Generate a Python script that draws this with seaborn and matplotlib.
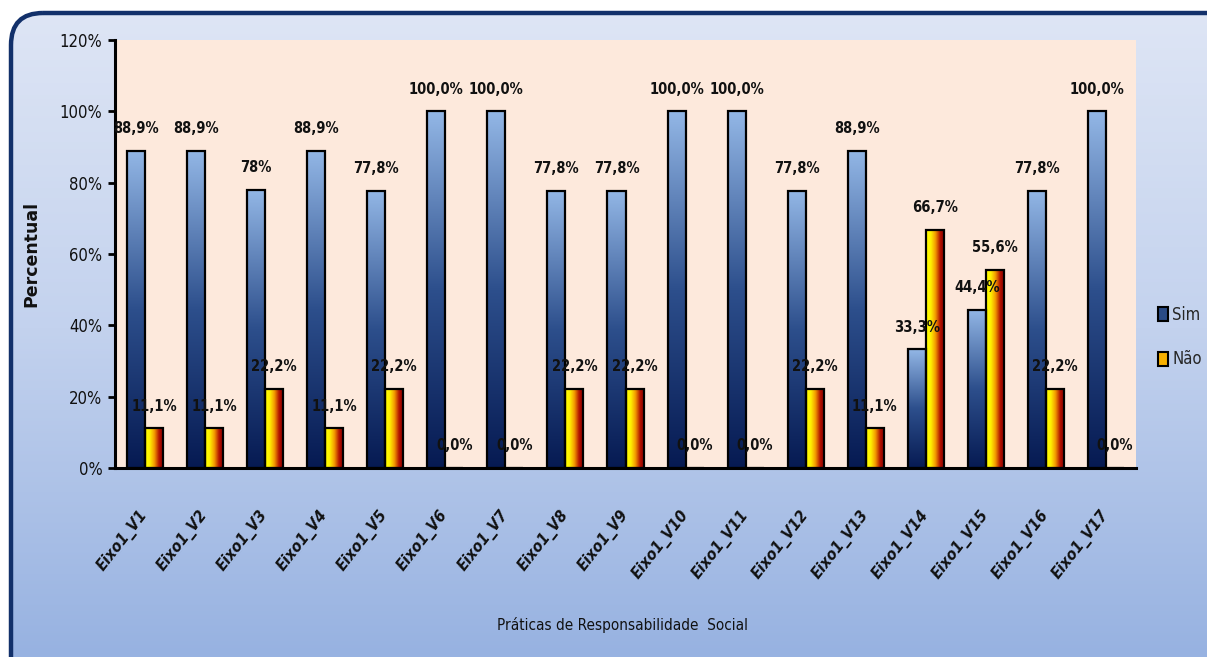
import numpy as np
import pandas as pd
import matplotlib
matplotlib.use("Agg")
import matplotlib.pyplot as plt
from matplotlib.colors import LinearSegmentedColormap
from matplotlib.patches import FancyBboxPatch, Patch
import seaborn as sns

# ---- data -------------------------------------------------------------
categories = [f"Eixo1_V{i}" for i in range(1, 18)]
sim = [88.9, 88.9, 78.0, 88.9, 77.8, 100.0, 100.0, 77.8, 77.8, 100.0,
       100.0, 77.8, 88.9, 33.3, 44.4, 77.8, 100.0]
nao = [11.1, 11.1, 22.2, 11.1, 22.2, 0.0, 0.0, 22.2, 22.2, 0.0,
       0.0, 22.2, 11.1, 66.7, 55.6, 22.2, 0.0]
# decimals shown in each data label
sim_decimals = [1, 1, 0, 1, 1, 1, 1, 1, 1, 1, 1, 1, 1, 1, 1, 1, 1]
nao_decimals = [1] * 17
series = ["Sim", "Não"]
y_ticks = [0, 20, 40, 60, 80, 100, 120]

df = pd.DataFrame({
    "categoria": categories * 2,
    "serie": ["Sim"] * 17 + ["Não"] * 17,
    "valor": sim + nao,
})

W, H, DPI = 1207, 657, 100
sns.set_theme(style="white")
plt.rcParams["font.family"] = ["DejaVu Sans"]
plt.rcParams["font.stretch"] = "condensed"
COND = dict(fontstretch="condensed")

fig = plt.figure(figsize=(W / DPI, H / DPI), dpi=DPI)
fig.patch.set_facecolor("white")

# ---- rounded gradient frame behind the chart --------------------------
bg = fig.add_axes([0, 0, 1, 1], zorder=-10)
bg.set_xlim(0, W)
bg.set_ylim(H, 0)
bg.axis("off")
frame_cmap = LinearSegmentedColormap.from_list("frame", ["#dfe6f5", "#c3d2ee", "#97b2e1"])
frame = FancyBboxPatch((11, 13), W + 40, H + 40,
                       boxstyle="round,pad=0,rounding_size=32",
                       facecolor="none", edgecolor="#12306a", linewidth=3.2)
bg.add_patch(frame)
grad = np.linspace(0, 1, 256).reshape(-1, 1)
im = bg.imshow(grad, extent=(0, W, H, 0), origin="upper", aspect="auto",
               cmap=frame_cmap, interpolation="bicubic", zorder=0)
im.set_clip_path(frame)
frame.set_zorder(2)

# ---- plot area ---------------------------------------------------------
left, right, top, bottom = 115, 1136, 40, 468
ax = fig.add_axes([left / W, 1 - bottom / H, (right - left) / W, (bottom - top) / H])
ax.set_facecolor("#fde9dc")

sns.barplot(data=df, x="categoria", y="valor", hue="serie", hue_order=series,
            order=categories, width=0.6, edgecolor="black", linewidth=1.6,
            legend=False, ax=ax, saturation=1)

sim_cmap = LinearSegmentedColormap.from_list("sim", ["#061a52", "#2d4f8c", "#93b7e6"])
nao_cmap = LinearSegmentedColormap.from_list("nao", ["#ffff00", "#fff200", "#f39a00", "#b01000", "#8a0000"])


def fill_gradient(patch, img, cmap):
    x0, y0 = patch.get_x(), patch.get_y()
    w, h = patch.get_width(), patch.get_height()
    if h <= 0:
        return
    g = ax.imshow(img, extent=(x0, x0 + w, y0, y0 + h), origin="lower",
                  aspect="auto", cmap=cmap, interpolation="bicubic", zorder=2)
    g.set_clip_path(patch)
    patch.set_facecolor("none")
    patch.set_zorder(3)


vert = np.linspace(0, 1, 256).reshape(-1, 1)
horz = np.linspace(0, 1, 256).reshape(1, -1)
for p in ax.containers[0]:
    fill_gradient(p, vert, sim_cmap)
for p in ax.containers[1]:
    fill_gradient(p, horz, nao_cmap)

# data labels
label_font = dict(fontsize=10.5, fontweight="bold", color="#111111",
                  ha="center", va="center", zorder=5, **COND)
for bars, vals, decs in ((ax.containers[0], sim, sim_decimals),
                         (ax.containers[1], nao, nao_decimals)):
    for p, v, d in zip(bars, vals, decs):
        txt = f"{v:.{d}f}%".replace(".", ",")
        ax.text(p.get_x() + p.get_width() / 2, v + 6.2, txt, **label_font)

ax.set_xlim(-0.5, len(categories) - 0.5)
ax.set_ylim(0, 120)
ax.set_yticks(y_ticks)
ax.set_yticklabels([f"{t}%" for t in y_ticks], fontsize=12, color="#111111", **COND)
ax.tick_params(axis="y", direction="out", length=5, width=2, color="black", pad=4, left=True)
ax.tick_params(axis="x", length=0, pad=32)
ax.set_xticks(range(len(categories)))
ax.set_xticklabels(categories, rotation=52, ha="right", va="center",
                   rotation_mode="anchor", fontsize=11.5,
                   fontweight="bold", fontstyle="italic", color="#111111", **COND)

for side in ("top", "right"):
    ax.spines[side].set_visible(False)
for side in ("left", "bottom"):
    ax.spines[side].set_visible(True)
    ax.spines[side].set_color("black")
    ax.spines[side].set_linewidth(2.2)

ax.set_ylabel("Percentual", fontsize=12.5, fontweight="bold", color="#111111",
              fontstretch="normal")
ax.yaxis.set_label_coords(-0.073, 0.5)
ax.set_xlabel("Práticas de Responsabilidade  Social", fontsize=11, color="#111111", **COND)
ax.xaxis.set_label_coords(0.4975, -0.348)

handles = [Patch(facecolor="#2a4b86", edgecolor="black", linewidth=1.5),
           Patch(facecolor="#f7b000", edgecolor="black", linewidth=1.5)]
fig.legend(handles, series, loc="center left", bbox_to_anchor=(1143 / W, 1 - 337 / H),
           frameon=False, prop=dict(size=12, stretch="condensed"), handlelength=0.6,
           handleheight=0.9, handletextpad=0.25, labelspacing=1.6)

fig.savefig("out.png", dpi=DPI)
